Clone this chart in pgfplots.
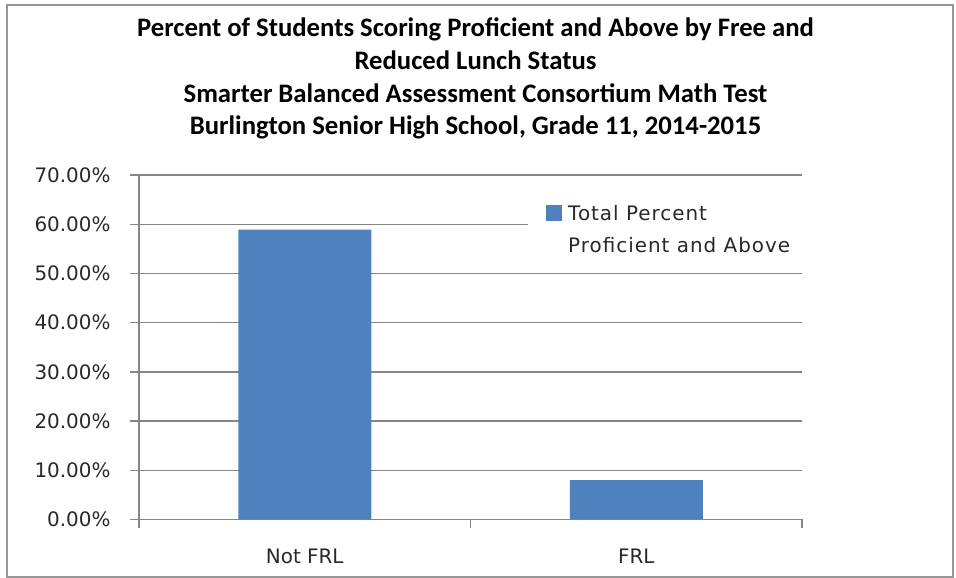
\documentclass[border=0pt]{standalone}
\usepackage{pgfplots}
\pgfplotsset{compat=1.18}
\usepackage{fontspec}
\setmainfont{DejaVu Sans}
\newfontfamily\titlefont{Carlito}
\newfontfamily\legfont[LetterSpace=5]{DejaVu Sans}
\definecolor{barblue}{RGB}{79,129,189}
\definecolor{gridgray}{RGB}{134,134,134}
\definecolor{framegray}{RGB}{150,150,150}
\definecolor{textgray}{RGB}{40,40,40}
\begin{document}
\begin{tikzpicture}[x=1bp,y=1bp]
\path[use as bounding box] (-139,-58.5) rectangle (817,519.5);
\draw[framegray, line width=1.5bp] (-132,-57.5) rectangle (814,514.5);
\begin{axis}[
  at={(0,0)}, anchor=south west,
  scale only axis, width=663bp, height=344.5bp,
  xmin=-0.5, xmax=1.5, ymin=0, ymax=70,
  axis x line*=bottom, axis y line*=left,
  axis line style={gridgray, line width=1.3bp},
  ytick={0,10,...,70},
  ymajorgrids,
  major grid style={gridgray, line width=1.3bp},
  tick align=outside,
  major tick length=9bp,
  tick style={gridgray, line width=1.3bp},
  xtick={-0.5,0.5,1.5},
  xticklabels={},
  extra x ticks={0,1},
  extra x tick labels={Not FRL,FRL},
  extra x tick style={major tick length=0bp, xticklabel style={yshift=-26bp}},
  /pgf/number format/assume math mode=true,
  yticklabel={\pgfmathprintnumber[fixed,fixed zerofill,precision=2]{\tick}\%},
  ticklabel style={font=\fontsize{20}{24}\selectfont, text=textgray},
  yticklabel style={xshift=-16bp},
  title={Percent of Students Scoring Proficient and Above by Free and\\Reduced Lunch Status\\Smarter Balanced Assessment Consortium Math Test\\Burlington Senior High School, Grade 11, 2014-2015},
  title style={align=center, font=\titlefont\bfseries\fontsize{26.8}{33}\selectfont, text=black, at={(0.5,1)}, anchor=south, yshift=26bp, xshift=5bp},
  ybar, bar width=133bp,
  legend style={at={(389bp,322bp)}, anchor=north west, draw=none, fill=white,
    font=\legfont\fontsize{20}{32}\selectfont, text=textgray, cells={align=left},
    inner xsep=18bp, inner ysep=6bp},
  legend image code/.code={\fill[barblue] (0bp,9bp) rectangle (16bp,25bp); \path (16bp,9bp) -- (20bp,9bp);},
]
\addplot[fill=barblue, draw=none] coordinates {(0,58.9) (1,8.0)};
\addlegendentry{Total Percent\\Proficient and Above}
\end{axis}
\end{tikzpicture}
\end{document}
